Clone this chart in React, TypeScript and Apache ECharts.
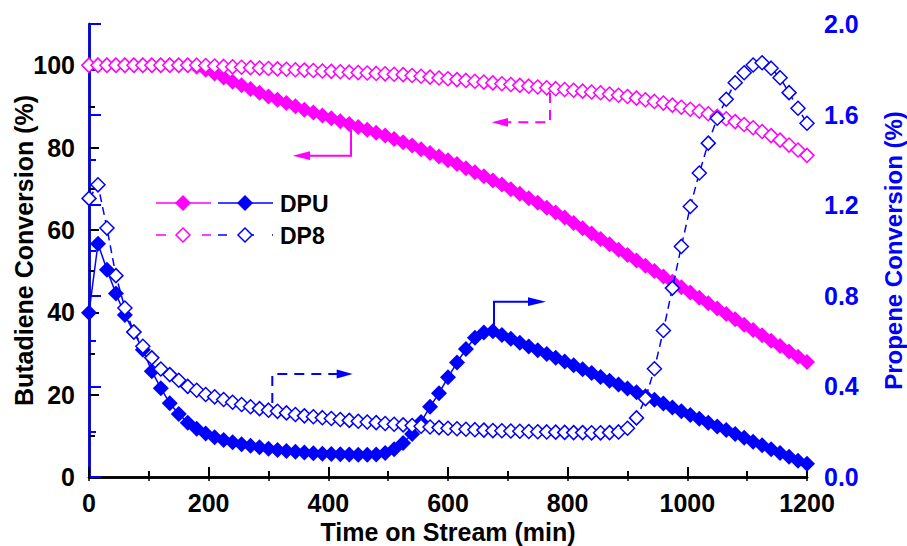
import React, { useEffect, useRef } from "react";
import * as echarts from "echarts";

const times = [
  0, 15, 30, 45, 60, 75, 90, 105, 120, 135, 150, 165, 180, 195, 210, 225, 240, 255, 270, 285,
  300, 315, 330, 345, 360, 375, 390, 405, 420, 435, 450, 465, 480, 495, 510, 525, 540, 555, 570, 585,
  600, 615, 630, 645, 660, 675, 690, 705, 720, 735, 750, 765, 780, 795, 810, 825, 840, 855, 870, 885,
  900, 915, 930, 945, 960, 975, 990, 1005, 1020, 1035, 1050, 1065, 1080, 1095, 1110, 1125, 1140, 1155, 1170, 1185,
  1200,
];

// Butadiene conversion (%) – left axis
const dpuButadiene = [
  100, 100, 100, 100, 100, 100, 100, 100, 100, 100, 100, 100, 99.6, 98.9, 98.0, 97.0, 96.0, 95.1, 94.2, 93.3,
  92.4, 91.6, 90.8, 90.0, 89.2, 88.5, 87.8, 87.1, 86.4, 85.7, 85.0, 84.3, 83.6, 82.9, 82.1, 81.3, 80.5, 79.6, 78.7, 77.8,
  76.9, 76.0, 75.0, 74.0, 73.0, 72.0, 71.0, 69.9, 68.8, 67.7, 66.6, 65.4, 64.2, 63.0, 61.7, 60.4, 59.1, 57.8, 56.5, 55.2,
  53.9, 52.6, 51.3, 50.0, 48.7, 47.4, 46.1, 44.8, 43.5, 42.2, 40.9, 39.6, 38.3, 37.0, 35.7, 34.4, 33.1, 31.8, 30.5, 29.2,
  27.9,
];
const dp8Butadiene = [
  100, 100, 100, 100, 100, 100, 100, 100, 100, 100, 100, 100, 100, 99.9, 99.8, 99.7, 99.6, 99.5, 99.4, 99.3,
  99.2, 99.1, 99.0, 98.9, 98.8, 98.7, 98.6, 98.5, 98.4, 98.3, 98.2, 98.1, 98.0, 97.9, 97.8, 97.7, 97.5, 97.3, 97.1, 96.9,
  96.7, 96.5, 96.3, 96.1, 95.9, 95.7, 95.5, 95.3, 95.1, 94.9, 94.7, 94.5, 94.3, 94.1, 93.9, 93.7, 93.5, 93.3, 93.0, 92.7,
  92.4, 92.0, 91.6, 91.2, 90.8, 90.3, 89.8, 89.3, 88.8, 88.2, 87.6, 87.0, 86.3, 85.6, 84.8, 83.9, 82.9, 81.8, 80.6, 79.4,
  78.1,
];

// Propene conversion (%) – right axis
const dpuPropene = [
  0.725, 1.03, 0.915, 0.81, 0.715, 0.64, 0.562, 0.467, 0.392, 0.326, 0.278, 0.24, 0.213, 0.192, 0.176, 0.163, 0.153, 0.145, 0.138, 0.131,
  0.125, 0.119, 0.115, 0.111, 0.108, 0.105, 0.103, 0.101, 0.1, 0.099, 0.098, 0.098, 0.099, 0.106, 0.122, 0.15, 0.19, 0.243, 0.31, 0.37,
  0.44, 0.505, 0.565, 0.615, 0.638, 0.643, 0.627, 0.61, 0.593, 0.576, 0.56, 0.543, 0.526, 0.51, 0.493, 0.476, 0.459, 0.442, 0.425, 0.408,
  0.391, 0.374, 0.357, 0.341, 0.324, 0.307, 0.29, 0.274, 0.257, 0.24, 0.223, 0.207, 0.19, 0.173, 0.156, 0.14, 0.123, 0.106, 0.089, 0.072,
  0.058,
];
const dp8Propene = [
  1.23, 1.29, 1.099, 0.889, 0.746, 0.64, 0.577, 0.526, 0.477, 0.452, 0.427, 0.4, 0.383, 0.364, 0.354, 0.342, 0.33, 0.32, 0.31, 0.302,
  0.295, 0.29, 0.283, 0.276, 0.27, 0.266, 0.262, 0.258, 0.254, 0.25, 0.246, 0.243, 0.24, 0.236, 0.233, 0.23, 0.227, 0.224, 0.221, 0.218,
  0.215, 0.213, 0.211, 0.209, 0.207, 0.205, 0.204, 0.203, 0.202, 0.201, 0.2, 0.199, 0.198, 0.197, 0.196, 0.196, 0.195, 0.195, 0.196, 0.199,
  0.215, 0.261, 0.346, 0.478, 0.647, 0.834, 1.018, 1.194, 1.342, 1.474, 1.584, 1.668, 1.741, 1.785, 1.819, 1.829, 1.805, 1.763, 1.697, 1.628,
  1.562,
];

const xTicks = [0, 200, 400, 600, 800, 1000, 1200];
const leftTicks = [0, 20, 40, 60, 80, 100];
const rightTicks = ["0.0", "0.4", "0.8", "1.2", "1.6", "2.0"];

const MAG = "#ff00ff";
const BLUE = "#0000ff";
const FONT = "'Liberation Sans', Arial, Helvetica, sans-serif";

function pairs(vals: number[]) {
  return times.map((t, i) => [t, vals[i]]);
}

function diamond(cx: number, cy: number, r: number, fill: string, stroke: string | null) {
  return {
    type: "polygon",
    shape: { points: [[cx, cy - r], [cx + r, cy], [cx, cy + r], [cx - r, cy]] },
    style: stroke ? { fill, stroke, lineWidth: 1.5 } : { fill },
    z: 100,
  };
}

function seg(x1: number, y1: number, x2: number, y2: number, color: string, dash?: number[]) {
  return {
    type: "line",
    shape: { x1, y1, x2, y2 },
    style: { stroke: color, lineWidth: 1.5, lineDash: dash || null },
    z: 99,
  };
}

function arrow(pts: number[][], head: number[][], color: string, dash?: number[]) {
  return [
    {
      type: "polyline",
      shape: { points: pts },
      style: { stroke: color, lineWidth: 2, fill: null, lineDash: dash || null },
      z: 99,
    },
    { type: "polygon", shape: { points: head }, style: { fill: color }, z: 99 },
  ];
}

export default function App() {
  const ref = useRef<HTMLDivElement>(null);
  useEffect(() => {
    if (!ref.current) return;
    const chart = echarts.init(ref.current, null, { renderer: "svg" });
    const axisFont = { fontFamily: FONT, fontWeight: "bold" as const, fontSize: 25 };
    const nameFont = { fontFamily: FONT, fontWeight: "bold" as const, fontSize: 25 };

    const graphics: any[] = [
      // legend row 1 (DPU)
      seg(156, 203, 211, 203, MAG),
      diamond(183, 203, 8, MAG, null),
      seg(218, 203, 273, 203, BLUE),
      diamond(245, 203, 8, BLUE, null),
      {
        type: "text",
        x: 280,
        y: 204,
        style: { text: "DPU", fill: "#000", font: `bold 23px ${FONT}`, verticalAlign: "middle" },
        z: 100,
      },
      // legend row 2 (DP8)
      seg(156, 235, 211, 235, MAG, [10, 13]),
      diamond(183, 235, 7, "#fff", MAG),
      seg(218, 235, 273, 235, BLUE, [9, 18]),
      diamond(245, 235, 7, "#fff", BLUE),
      {
        type: "text",
        x: 280,
        y: 236,
        style: { text: "DP8", fill: "#000", font: `bold 23px ${FONT}`, verticalAlign: "middle" },
        z: 100,
      },
      // annotation arrows
      ...arrow([[351, 130], [351, 155.7], [308, 155.7]], [[292.7, 155.7], [310, 151.3], [310, 160.1]], MAG),
      ...arrow([[550, 93], [550, 122.3], [506, 122.3]], [[491.7, 122.3], [508, 117.9], [508, 126.7]], MAG, [10, 7]),
      ...arrow([[272.3, 403], [272.3, 374], [338, 374]], [[352.7, 374], [336.7, 369.6], [336.7, 378.4]], BLUE, [10, 7]),
      ...arrow([[494, 330], [494, 301.7], [530, 301.7]], [[546, 301.7], [528, 297.3], [528, 306.1]], BLUE),
    ];

    chart.setOption({
      animation: false,
      backgroundColor: "#fff",
      grid: { left: 89, right: 100, top: 24, bottom: 69, containLabel: false, outerBoundsMode: "none" },
      xAxis: [
        {
          type: "value",
          position: "bottom",
          min: 0,
          max: 1200,
          interval: 200,
          name: "Time on Stream (min)",
          nameLocation: "middle",
          nameGap: 42,
          nameTextStyle: { ...nameFont, color: "#000" },
          axisLine: { show: true, lineStyle: { color: "#000", width: 2.5 } },
          axisTick: { show: true, inside: true, length: 10, lineStyle: { color: "#000", width: 2 } },
          minorTick: { show: true, splitNumber: 2, length: 6, lineStyle: { color: "#000", width: 2 } },
          axisLabel: {
            ...axisFont,
            color: "#000",
            margin: 13,
            formatter: (v: number) => (xTicks.includes(v) ? String(v) : ""),
          },
          splitLine: { show: false },
        },
        {
          type: "value",
          position: "top",
          min: 0,
          max: 1200,
          interval: 100,
          axisLine: { show: true, lineStyle: { color: "#000", width: 2.5 } },
          axisTick: { show: true, inside: true, length: 4, lineStyle: { color: "#000", width: 1.5 } },
          axisLabel: { show: false },
          splitLine: { show: false },
        },
      ],
      yAxis: [
        {
          type: "value",
          position: "left",
          min: 0,
          max: 110,
          interval: 20,
          name: "Butadiene Conversion (%)",
          nameLocation: "middle",
          nameGap: 53,
          nameRotate: 90,
          nameMoveOverlap: false,
          nameTextStyle: { ...nameFont, color: "#000" },
          axisLine: { show: true, lineStyle: { color: "#000", width: 2.5 } },
          axisTick: { show: true, inside: true, length: 10, lineStyle: { color: "#000", width: 2 } },
          minorTick: { show: true, splitNumber: 2, length: 6, lineStyle: { color: "#000", width: 2 } },
          axisLabel: {
            ...axisFont,
            color: "#000",
            margin: 14,
            formatter: (v: number) => (leftTicks.includes(v) ? String(v) : ""),
          },
          splitLine: { show: false },
        },
        {
          type: "value",
          position: "right",
          min: 0,
          max: 2,
          interval: 0.4,
          name: "Propene Conversion (%)",
          nameLocation: "middle",
          nameGap: 74,
          nameRotate: 90,
          nameMoveOverlap: false,
          nameTextStyle: { ...nameFont, fontSize: 24, color: BLUE },
          axisLine: { show: true, lineStyle: { color: BLUE, width: 2.5 } },
          axisTick: { show: true, inside: false, length: 12, lineStyle: { color: BLUE, width: 2 } },
          minorTick: { show: true, splitNumber: 2, length: 7, lineStyle: { color: BLUE, width: 2 } },
          axisLabel: {
            ...axisFont,
            color: BLUE,
            margin: 17,
            formatter: (v: number) => {
              const s = v.toFixed(1);
              return rightTicks.includes(s) ? s : "";
            },
          },
          splitLine: { show: false },
        },
      ],
      series: [
        {
          name: "DPU butadiene",
          type: "line",
          xAxisIndex: 0,
          yAxisIndex: 0,
          data: pairs(dpuButadiene),
          symbol: "diamond",
          symbolSize: 16,
          showAllSymbol: true,
          itemStyle: { color: MAG },
          lineStyle: { color: MAG, width: 1 },
          z: 2,
        },
        {
          name: "DP8 butadiene",
          type: "line",
          xAxisIndex: 0,
          yAxisIndex: 0,
          data: pairs(dp8Butadiene),
          symbol: "diamond",
          symbolSize: 14,
          showAllSymbol: true,
          itemStyle: { color: "#fff", borderColor: MAG, borderWidth: 1.5 },
          lineStyle: { color: MAG, width: 1.5, type: [7, 5] },
          z: 3,
        },
        {
          name: "DPU propene",
          type: "line",
          xAxisIndex: 0,
          yAxisIndex: 1,
          data: pairs(dpuPropene),
          symbol: "diamond",
          symbolSize: 16,
          showAllSymbol: true,
          itemStyle: { color: BLUE },
          lineStyle: { color: BLUE, width: 1.5 },
          z: 4,
        },
        {
          name: "DP8 propene",
          type: "line",
          xAxisIndex: 0,
          yAxisIndex: 1,
          data: pairs(dp8Propene),
          symbol: "diamond",
          symbolSize: 14,
          showAllSymbol: true,
          itemStyle: { color: "#fff", borderColor: BLUE, borderWidth: 1.5 },
          lineStyle: { color: BLUE, width: 1.5, type: [8, 5] },
          z: 5,
        },
      ],
      graphic: graphics,
    });
    return () => chart.dispose();
  }, []);
  return (
    <div
      ref={ref}
      style={{ position: "absolute", left: 0, top: 0, width: 907, height: 546, background: "#fff" }}
    />
  );
}
